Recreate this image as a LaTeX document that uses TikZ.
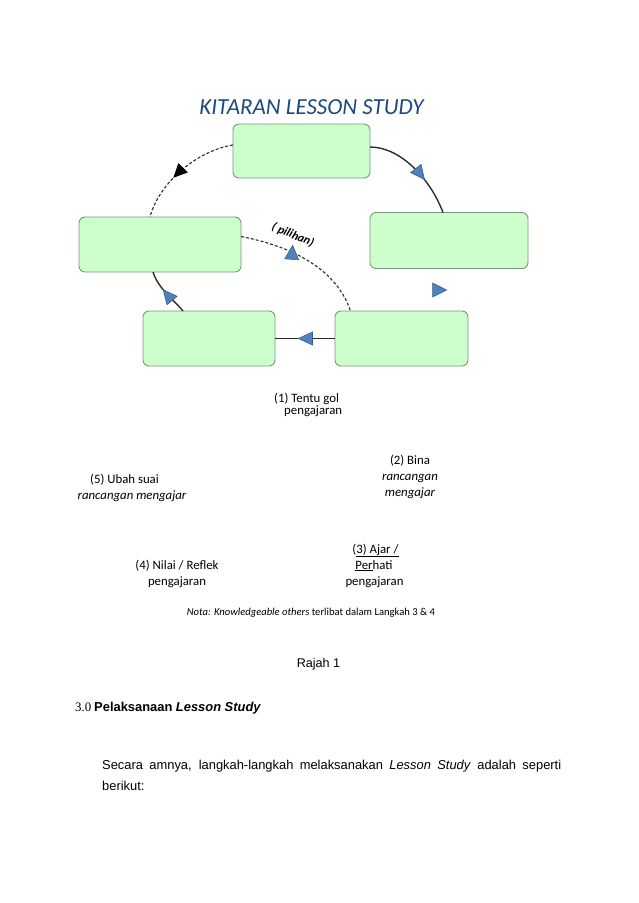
\documentclass[tikz,border=0pt]{standalone}
\usepackage{fontspec}
\setmainfont{Carlito}
\newfontfamily\arialf{Liberation Sans}
\newfontfamily\timesf{Liberation Serif}
\usetikzlibrary{arrows.meta,decorations.markings,shapes.geometric}
\definecolor{boxfill}{RGB}{204,255,204}
\definecolor{boxline}{RGB}{125,150,125}
\definecolor{triblue}{RGB}{79,129,189}
\definecolor{tridark}{RGB}{60,96,140}
\definecolor{titleblue}{RGB}{31,73,125}
\definecolor{linegray}{RGB}{45,45,45}
\tikzset{
  stage/.style={draw=boxline, fill=boxfill, line width=0.9pt, rounded corners=6pt, inner sep=0pt, outer sep=0pt},
  conn/.style={draw=linegray, line width=1.4pt},
  dconn/.style={draw=linegray, line width=1.1pt, dash pattern=on 3pt off 2pt},
  bluetip/.style={postaction={decorate}, decoration={markings, mark=at position #1 with {\arrow{Triangle[length=15pt,width=14pt,fill=triblue,color=tridark,line width=0.6pt]}}}},
  blacktip/.style={postaction={decorate}, decoration={markings, mark=at position #1 with {\arrow{Triangle[length=14pt,width=13pt,fill=black,color=black]}}}},
  tri/.style={isosceles triangle, isosceles triangle stretches, minimum width=14pt, minimum height=14pt, fill=triblue, draw=tridark, line width=0.6pt, inner sep=0pt},
  lbl/.style={font=\fontsize{12.8}{15}\selectfont, anchor=base, inner sep=0pt},
  lbli/.style={font=\fontsize{12.8}{15}\selectfont\itshape, anchor=base, inner sep=0pt},
}
\begin{document}
\begin{tikzpicture}[x=1pt,y=-1pt]
\useasboundingbox (0,0) rectangle (638,903);
\fill[white] (0,0) rectangle (638,903);

\node[font=\fontsize{23}{26}\selectfont\itshape, text=titleblue, anchor=base, inner sep=0pt] (title) at (311.5,114) {KITARAN LESSON STUDY};

\node[stage, minimum width=137pt, minimum height=54pt] (top) at (301.5,151) {};
\node[stage, minimum width=158pt, minimum height=56pt] (right) at (449,240.5) {};
\node[stage, minimum width=162pt, minimum height=55pt] (left) at (160,244.5) {};
\node[stage, minimum width=132pt, minimum height=55pt] (botleft) at (209,338.5) {};
\node[stage, minimum width=133pt, minimum height=55pt] (botright) at (401.5,338.5) {};

\draw[conn, bluetip=0.64] ([yshift=4pt]top.east) .. controls (400,147) and (430,178) .. ([xshift=-6pt]right.north);
\draw[conn, bluetip=0.62] (botright.west) -- (botleft.east);
\draw[conn, bluetip=0.6] ([xshift=-26pt]botleft.north) .. controls (172,298) and (158,288) .. ([xshift=-7pt]left.south);
\draw[dconn, blacktip=0.6] ([yshift=6pt]top.west) .. controls (200,150) and (160,180) .. ([xshift=-10pt]left.north);
\draw[dconn] ([yshift=8pt]left.east) .. controls (285,245) and (335,265) .. ([xshift=-51pt]botright.north);
\node[tri, rotate=86] (ptri) at (292,255) {};
\node[tri] (ftri) at (437,290) {};
\node[font=\fontsize{12}{14}\selectfont\bfseries\itshape, rotate=-23, inner sep=0pt] (pil) at (293,235) {( pilihan)};

\node[lbl, anchor=base west] (s1a) at (274,402) {(1) Tentu gol};
\node[lbl, anchor=base west] (s1b) at (284,414) {pengajaran};

\node[lbl] (s2a) at (410,464) {(2) Bina};
\node[lbli] (s2b) at (410,480) {rancangan};
\node[lbli] (s2c) at (410,496) {mengajar};

\node[lbl] (s5a) at (124.5,483) {(5) Ubah suai};
\node[lbli] (s5b) at (132,499) {rancangan mengajar};

\node[lbl] (s3a) at (375.5,553) {(\underline{3) Ajar /}};
\node[lbl] (s3b) at (374,569) {\underline{Per}hati};
\node[lbl] (s3c) at (374.5,585) {pengajaran};

\node[lbl] (s4a) at (177,569) {(4) Nilai / Reflek};
\node[lbl] (s4b) at (177,585) {pengajaran};

\node[font=\fontsize{10.6}{12}\selectfont, anchor=base, inner sep=0pt] (nota) at (311,615) {\textit{Nota: Knowledgeable others} terlibat dalam Langkah 3 \& 4};

\node[font=\arialf\fontsize{12.6}{15}\selectfont, anchor=base, inner sep=0pt] (rajah) at (318.5,667) {Rajah 1};

\node[font=\fontsize{12.9}{15}\selectfont, anchor=base west, inner sep=0pt] (sec) at (75,711) {{\timesf 3.0} {\arialf\bfseries Pelaksanaan \itshape Lesson Study}};

\node[font=\arialf\fontsize{12.9}{21}\selectfont, anchor=base west, inner sep=0pt, text width=459pt, align=justify] (body) at (102,769) {Secara amnya, langkah-langkah melaksanakan \textit{Lesson Study} adalah seperti berikut:};
\end{tikzpicture}
\end{document}
